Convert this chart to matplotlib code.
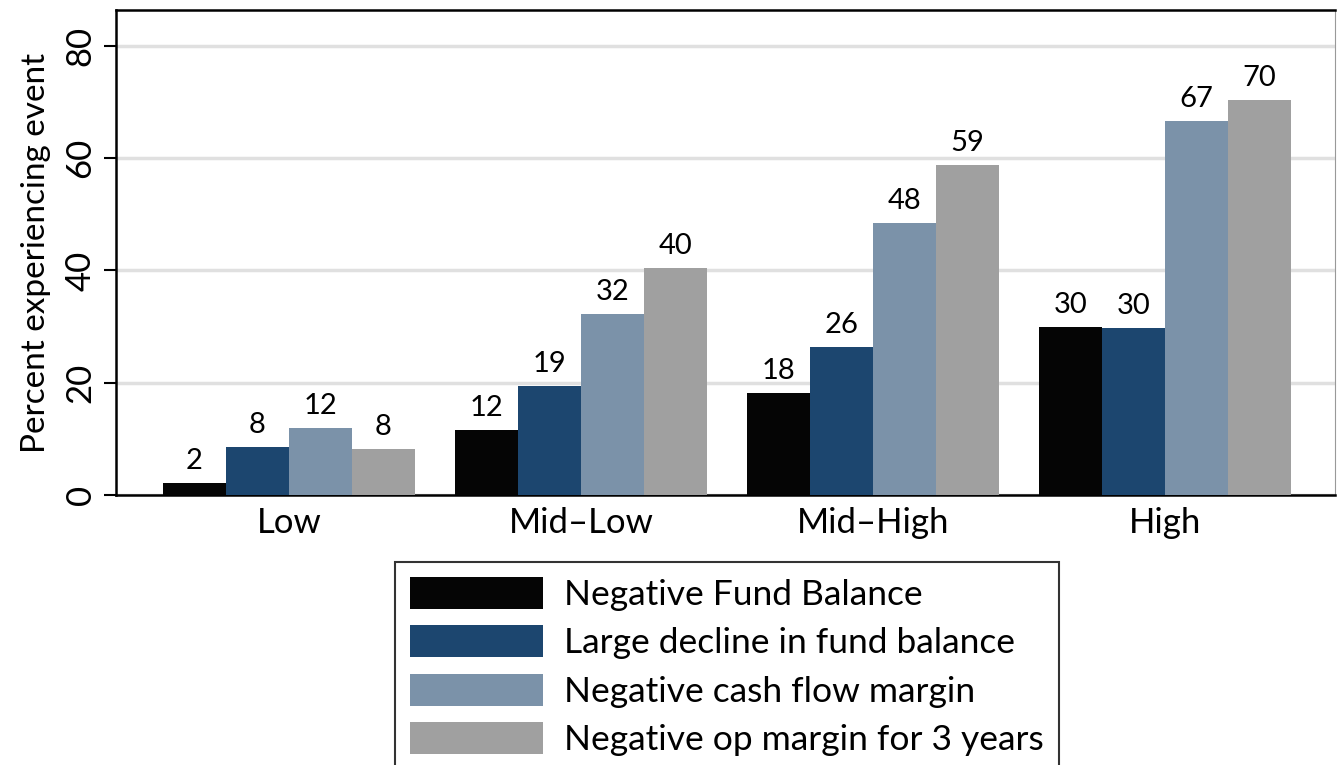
import matplotlib
matplotlib.use("Agg")
import matplotlib.pyplot as plt
import numpy as np

categories = ["Low", "Mid\u2013Low", "Mid\u2013High", "High"]
series_names = ["Negative Fund Balance", "Large decline in fund balance",
                "Negative cash flow margin", "Negative op margin for 3 years"]
neg_fund_balance = [2.2, 11.6, 18.2, 30.0]
large_decline = [8.5, 19.4, 26.3, 29.7]
neg_cash_flow = [12.0, 32.2, 48.5, 66.7]
neg_op_margin = [8.2, 40.4, 58.8, 70.3]
y_ticks = [0, 20, 40, 60, 80]

colors = ["#050505", "#1c466f", "#7b92a9", "#a0a0a0"]

plt.rcParams['font.family'] = ['Lato', 'DejaVu Sans']

fig = plt.figure(figsize=(13.38, 7.65), dpi=100)
ax = fig.add_axes([0.0867, 0.353, 0.911, 0.634])

x = np.arange(len(categories))
width = 0.216
all_series = [neg_fund_balance, large_decline, neg_cash_flow, neg_op_margin]
for i, (vals, name) in enumerate(zip(all_series, series_names)):
    offs = (i - 1.5) * width
    bars = ax.bar(x + offs, vals, width, color=colors[i], label=name, zorder=3)
    for b, v in zip(bars, vals):
        ax.text(b.get_x() + b.get_width() / 2, v + 1.6, f"{v:.0f}",
                ha='center', va='bottom', fontsize=21, zorder=4)

ax.set_xlim(-0.592, 3.582)
ax.set_ylim(0, 86.4)
ax.set_yticks(y_ticks)
ax.set_yticklabels([str(t) for t in y_ticks], rotation=90, va='center', fontsize=25)
ax.set_xticks(x)
ax.set_xticklabels(categories, fontsize=25)
ax.tick_params(axis='x', length=0, pad=9)
ax.tick_params(axis='y', length=9, width=1.5, pad=5)
ax.set_ylabel("Percent experiencing event", fontsize=24, labelpad=10)

ax.grid(axis='y', color='#e0e0e0', linewidth=2.5, zorder=0)
for s in ['left', 'bottom', 'top']:
    ax.spines[s].set_linewidth(1.8)
    ax.spines[s].set_color('black')
ax.spines['right'].set_color('#999999')
ax.spines['right'].set_linewidth(0.8)

leg = fig.legend(loc='upper center', bbox_to_anchor=(0.5434, 0.2654), ncol=1,
                 fontsize=25.5, frameon=True, fancybox=False, edgecolor='black',
                 handlelength=3.75, handleheight=1.02, handletextpad=0.6,
                 labelspacing=0.4, borderpad=0.42, borderaxespad=0)
leg.get_frame().set_linewidth(1.5)

fig.savefig("out.png", dpi=100)
